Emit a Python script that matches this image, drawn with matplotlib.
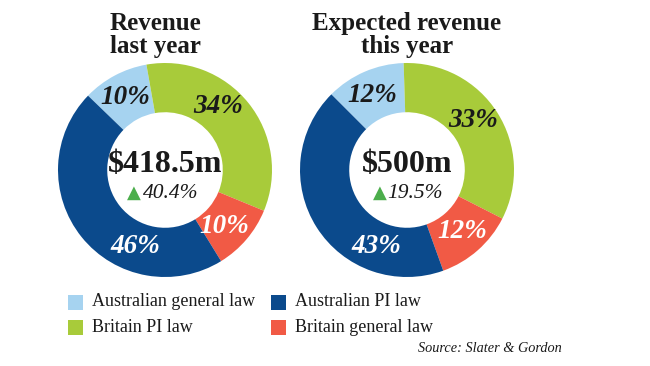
import numpy as np
import matplotlib
matplotlib.use("Agg")
import matplotlib.pyplot as plt

plt.rcParams['font.family'] = ['Liberation Serif', 'DejaVu Serif']

# data
categories = ['Australian general law', 'Britain PI law', 'Britain general law', 'Australian PI law']
colors = ['#a6d3f0', '#a8cb3a', '#f15a45', '#0b4a8c']
last_year = [10, 34, 10, 46]
this_year = [12, 33, 12, 43]
titles = ['Revenue\nlast year', 'Expected revenue\nthis year']
totals = ['$418.5m', '$500m']
growth = ['40.4%', '19.5%']
start_angles = [136, 135]

# label placement (angle in degrees, inside the ring)
label_angles = [[119, 50, -43.5, -111], [115, 37, -48, -112]]
label_colors = ['#1a1a1a', '#1a1a1a', 'white', 'white']

fig = plt.figure(figsize=(6.5, 3.66), dpi=100)

R_PX = 107
centers = [(165, 170), (407, 170)]
title_x = [155, 407]
growth_x = [(0.056, -0.29), (0.075, -0.25)]

for k, vals in enumerate([last_year, this_year]):
    cx, cy = centers[k]
    half = 1.25 * R_PX
    ax = fig.add_axes([(cx - half) / 650, (366 - cy - half) / 366, 2 * half / 650, 2 * half / 366])
    ax.pie(vals, colors=colors, startangle=start_angles[k], counterclock=False,
           radius=1, wedgeprops=dict(width=0.46, linewidth=0))
    ax.set_xlim(-1.25, 1.25)
    ax.set_ylim(-1.25, 1.25)
    ax.set_aspect('equal')
    ax.axis('off')

    for v, ang, c in zip(vals, label_angles[k], label_colors):
        a = np.deg2rad(ang)
        ax.text(0.77 * np.cos(a), 0.77 * np.sin(a), f'{v}%', ha='center', va='center',
                fontsize=19.5, fontweight='bold', fontstyle='italic', color=c)

    ax.text(0, 0.05, totals[k], ha='center', va='center', fontsize=23,
            fontweight='bold', color='#1a1a1a')
    tx, trx = growth_x[k]
    ax.text(tx, -0.215, growth[k], ha='center', va='center', fontsize=15.5,
            fontstyle='italic', color='#1a1a1a')
    ax.text(trx, -0.215, '\u25b2', ha='center', va='center', fontsize=13,
            color='#4cae4c', family=['DejaVu Sans'])

    fig.text(title_x[k] / 650, 1 - 35 / 366, titles[k], ha='center', va='center',
             fontsize=18, fontweight='bold', color='#1a1a1a', linespacing=1.05)

# legend
leg_items = [(0, 68, 302), (3, 271, 302), (1, 68, 327), (2, 271, 327)]
for idx, x, y in leg_items:
    fig.patches.append(plt.Rectangle((x / 650, 1 - (y + 7.5) / 366), 15 / 650, 15 / 366,
                                     transform=fig.transFigure, color=colors[idx], lw=0))
    fig.text((x + 24) / 650, 1 - y / 366, categories[idx], ha='left', va='center',
             fontsize=13, color='#1a1a1a')

fig.text(562 / 650, 1 - 348 / 366, 'Source: Slater & Gordon', ha='right', va='center',
         fontsize=10.3, fontstyle='italic', color='#1a1a1a')

fig.savefig('out.png', dpi=100, facecolor='white')
